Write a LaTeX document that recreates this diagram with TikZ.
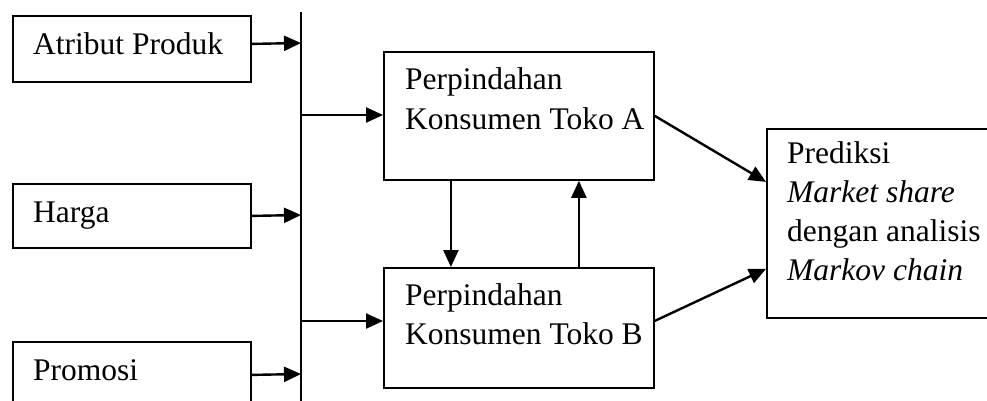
\documentclass[tikz,border=0pt]{standalone}
\usepackage{fontspec}
\setmainfont{Liberation Serif}
\usetikzlibrary{arrows.meta}
\begin{document}
\begin{tikzpicture}[x=1pt,y=-1pt,
  box/.style={draw, line width=1.8pt, anchor=north west, inner sep=0pt},
  txt/.style={anchor=base west, inner sep=0pt, font=\fontsize{31.5}{39}\selectfont},
  arr/.style={-{Triangle[length=17pt,width=15pt]}, line width=2.4pt},
  bar/.style={line width=2.2pt}]
\useasboundingbox (0,0) rectangle (987,401);
\fill[white] (0,0) rectangle (987,401);
\clip (0,0) rectangle (987,401);
% input boxes
\node[box, minimum width=238pt, minimum height=66pt] (atr) at (12,15) {};
\node[txt] (tatr) at (33,55) {Atribut Produk};
\node[box, minimum width=238pt, minimum height=64pt] (hrg) at (12,183) {};
\node[txt] (thrg) at (33,222) {Harga};
\node[box, minimum width=238pt, minimum height=66pt] (prm) at (12,341) {};
\node[txt] (tprm) at (33,380) {Promosi};
% middle boxes
\node[box, minimum width=270pt, minimum height=128pt] (A) at (383,51) {};
\node[txt] (tA1) at (405,90) {Perpindahan};
\node[txt] (tA2) at (405,129) {Konsumen Toko A};
\node[box, minimum width=270pt, minimum height=120pt] (B) at (383,267) {};
\node[txt] (tB1) at (405,305) {Perpindahan};
\node[txt] (tB2) at (405,344) {Konsumen Toko B};
% output box
\node[box, minimum width=240pt, minimum height=189pt] (P) at (766,128) {};
\node[txt] (tP1) at (787,163) {Prediksi};
\node[txt] (tP2) at (787,202) {\itshape Market share};
\node[txt] (tP3) at (787,241) {dengan analisis};
\node[txt] (tP4) at (787,280) {\itshape Markov chain};
% vertical bus
\coordinate (vt) at (301,12);
\coordinate (vb) at (301,401);
\coordinate (j1) at (301,43);
\coordinate (j2) at (301,215);
\coordinate (j3) at (301,374);
\coordinate (b1) at (301,115);
\coordinate (b2) at (301,321);
\draw[bar] (vt) -- (vb);
\draw[arr] ([yshift=5pt]atr.east) -- (j1);
\draw[arr] (hrg.east) -- (j2);
\draw[arr] (prm.east) -- (j3);
\draw[arr] (b1) -- (A.west |- b1);
\draw[arr] (b2) -- (B.west |- b2);
% between A and B
\draw[arr] ([xshift=-68pt]A.south) -- ([xshift=-68pt]B.north);
\draw[arr] ([xshift=60pt]B.north) -- ([xshift=60pt]A.south);
% to prediction
\draw[arr] (A.east) -- ([yshift=41.5pt]P.west);
\draw[arr] ([yshift=7pt]B.east) -- ([yshift=-45.5pt]P.west);
\end{tikzpicture}
\end{document}
